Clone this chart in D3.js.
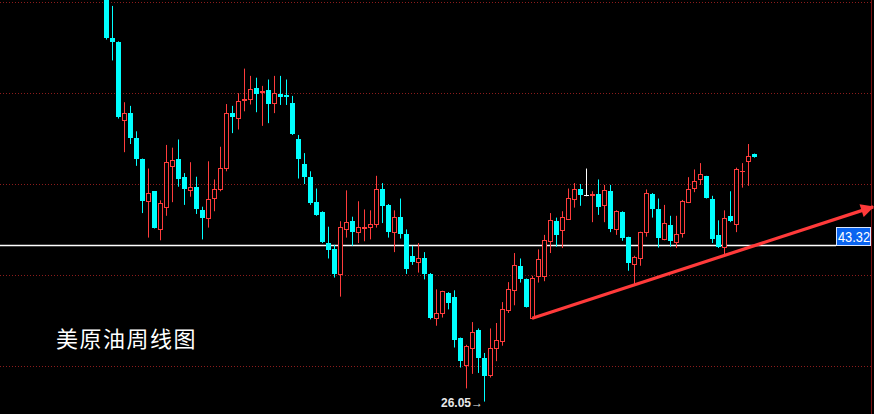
<!DOCTYPE html>
<html>
<head>
<meta charset="utf-8">
<script src="https://cdn.jsdelivr.net/npm/d3@7/dist/d3.min.js"></script>
<style>
html,body{margin:0;padding:0;background:#000;}
svg{display:block;}
</style>
</head>
<body>
<svg id="chart" width="874" height="414"></svg>
<script>
// ---- data (weekly candles, US crude oil) ----
const opens  = [74.0,66.1,65.6,57.0,57.8,55.1,52.7,48.1,49.2,45.1,47.5,52.0,52.7,50.8,49.3,49.7,47.1,46.3,48.5,49.5,51.8,57.8,57.3,59.25,59.4,60.6,60.1,60.3,58.9,59.9,59.8,58.9,54.9,52.2,50.75,48.0,46.9,43.5,42.8,40.1,45.0,45.9,44.7,45.2,45.3,45.6,49.5,47.7,44.7,46.4,44.5,42.1,41.4,41.8,40.1,35.3,35.8,38.0,37.6,33.0,30.1,32.0,33.9,30.9,28.95,31.9,32.7,36.1,38.3,41.0,39.5,35.3,39.9,39.9,43.7,45.9,44.9,46.2,48.4,49.5,48.8,48.8,48.9,47.7,49.2,45.0,46.9,44.2,41.2,41.9,44.7,48.95,47.2,43.95,45.5,43.6,44.6,48.0,49.6,50.5,50.9,48.3,44.4,43.1,46.5,45.6,51.4,52.5,53.25];
const highs  = [75.0,69.6,65.7,59.0,58.6,55.8,52.8,51.7,49.2,48.2,54.3,54.0,54.9,51.2,52.4,50.8,47.5,52.5,50.5,54.1,58.8,58.6,60.0,62.7,61.9,61.7,60.8,61.5,61.9,61.9,61.5,59.7,55.4,53.4,51.4,49.5,47.0,45.3,43.3,45.9,49.3,46.4,48.1,47.2,47.1,50.9,50.1,47.8,47.1,48.4,45.0,43.2,43.5,42.5,40.2,38.4,38.25,38.1,38.3,33.1,32.3,34.8,34.1,31.4,34.1,34.7,37.0,39.2,42.4,41.8,39.6,39.9,42.8,44.4,46.8,46.3,47.0,49.5,50.1,50.0,51.7,49.2,50.5,49.9,49.9,47.1,47.0,44.2,42.1,44.75,49.4,49.0,48.4,47.7,46.5,46.5,48.25,50.75,51.6,52.3,50.9,48.7,46.0,47.1,49.2,51.8,52.3,54.4,53.35];
const lows   = [65.9,63.6,57.2,53.5,54.4,52.0,46.8,44.1,45.1,43.8,46.5,48.0,49.7,47.7,48.6,46.7,43.9,45.2,47.0,49.2,51.4,55.6,56.0,58.0,58.75,57.9,56.4,56.7,57.8,58.7,58.7,55.4,50.6,50.0,47.7,46.5,43.5,41.8,39.7,37.6,44.1,43.2,43.5,43.7,43.9,45.2,45.7,44.1,42.5,44.0,40.1,41.1,40.25,39.5,35.1,34.4,35.3,36.2,32.0,29.8,27.5,29.1,29.2,26.05,28.7,30.5,32.2,35.8,36.65,39.15,36.4,35.1,39.15,39.3,42.4,43.1,42.95,46.15,47.4,47.6,48.65,45.8,46.6,45.8,44.7,44.4,43.75,40.45,39.0,41.0,44.2,46.3,43.0,43.8,43.1,42.95,44.1,47.9,49.1,49.9,48.4,43.5,42.95,42.2,45.8,44.7,49.6,49.8,52.9];
const closes = [66.1,65.6,57.4,57.8,55.1,52.7,48.1,49.0,45.2,47.9,52.4,52.6,50.6,49.4,49.7,47.2,46.3,48.4,49.5,51.8,57.8,57.4,59.1,59.35,60.5,59.9,60.2,58.8,60.0,59.6,59.6,55.5,52.7,50.75,47.9,46.6,43.6,42.7,40.1,45.3,45.8,44.7,45.3,45.25,45.6,49.5,47.6,44.7,46.4,44.5,40.6,41.4,41.8,40.1,35.2,35.8,38.2,36.9,32.8,30.5,32.2,33.7,30.9,28.9,32.0,32.8,36.2,38.4,41.1,39.5,36.5,39.6,41.7,43.8,46.0,44.4,46.4,48.5,49.5,48.8,48.8,48.85,47.45,49.3,45.0,47.0,44.1,41.25,42.0,44.7,49.0,47.2,44.1,45.7,43.7,44.5,48.1,49.5,50.3,51.05,48.5,44.0,43.1,46.3,45.9,51.7,51.45,53.1,52.95];

const gridValues = [30, 40, 50, 60, 70];
const refLevel = 43.32;
const refLabel = "43.32";
const lowLabel = "26.05";
const title = "美原油周线图";
// trend line in data space: [candle index, price]
const trendStart = [71, 35.23];
const trendEnd = [127.8, 47.48];

// ---- scales ----
const W = 874, H = 414;
const n = opens.length;
const x = d3.scaleLinear().domain([0, n - 1]).range([106.3, 754.3]);
const y = d3.scaleLinear().domain([30, 70]).range([365.7, 2.3]);

const svg = d3.select("#chart");
svg.append("rect").attr("width", W).attr("height", H).attr("fill", "#000");

const UP = "#ff3c3c", DOWN = "#00ffff", GRID = "#8c1c1c";
const plotRight = 871;

// gridlines
svg.append("g").selectAll("line").data(gridValues).join("line")
  .attr("x1", 0).attr("x2", plotRight)
  .attr("y1", d => Math.round(y(d)) + 0.5).attr("y2", d => Math.round(y(d)) + 0.5)
  .attr("stroke", GRID).attr("stroke-width", 1).attr("stroke-dasharray", "1,2");

// right border line
svg.append("line").attr("x1", plotRight + 0.5).attr("x2", plotRight + 0.5)
  .attr("y1", 0).attr("y2", H).attr("stroke", "#7a1010").attr("stroke-width", 1);

// reference horizontal line
const refY = Math.round(y(refLevel)) + 0.5;
const boxX = 836, boxW = plotRight - boxX, boxH = 18;
svg.append("line").attr("x1", 0).attr("x2", boxX).attr("y1", refY).attr("y2", refY)
  .attr("stroke", "#ffffff").attr("stroke-width", 1.3);

// candles
const candles = d3.range(n).map(i => ({i, o: opens[i], h: highs[i], l: lows[i], c: closes[i]}));
const g = svg.append("g");
const cx = d => Math.round(x(d.i));
const colorOf = d => d.c > d.o ? UP : (d.c < d.o ? DOWN : "#ffffff");

g.selectAll("line.wick").data(candles).join("line").attr("class", "wick")
  .attr("x1", d => cx(d) + 0.5).attr("x2", d => cx(d) + 0.5)
  .attr("y1", d => y(d.h)).attr("y2", d => y(d.l))
  .attr("stroke", colorOf).attr("stroke-width", 1);

// up candles: hollow
g.selectAll("rect.up").data(candles.filter(d => d.c > d.o)).join("rect").attr("class", "up")
  .attr("x", d => cx(d) - 2 + 0.5).attr("width", 4)
  .attr("y", d => Math.round(y(d.c)) + 0.5)
  .attr("height", d => Math.max(0.01, Math.round(y(d.o)) - Math.round(y(d.c))))
  .attr("fill", "#000").attr("stroke", UP).attr("stroke-width", 1);

// down candles: filled
g.selectAll("rect.down").data(candles.filter(d => d.c < d.o)).join("rect").attr("class", "down")
  .attr("x", d => cx(d) - 2).attr("width", 5)
  .attr("y", d => Math.round(y(d.o)))
  .attr("height", d => Math.max(1, Math.round(y(d.c)) - Math.round(y(d.o))))
  .attr("fill", DOWN);

// doji: horizontal tick
g.selectAll("line.doji").data(candles.filter(d => d.c === d.o)).join("line").attr("class", "doji")
  .attr("x1", d => cx(d) - 2).attr("x2", d => cx(d) + 3)
  .attr("y1", d => Math.round(y(d.o)) + 0.5).attr("y2", d => Math.round(y(d.o)) + 0.5)
  .attr("stroke", "#ffffff").attr("stroke-width", 1);

// trend line with arrow
const defs = svg.append("defs");
defs.append("marker").attr("id", "arrow").attr("viewBox", "0 0 10 10")
  .attr("refX", 9).attr("refY", 5).attr("markerWidth", 5).attr("markerHeight", 4.2)
  .attr("orient", "auto").attr("markerUnits", "strokeWidth")
  .append("path").attr("d", "M0,0 L10,5 L0,10 Z").attr("fill", "#ff3a3a");
svg.append("line")
  .attr("x1", x(trendStart[0])).attr("y1", y(trendStart[1]))
  .attr("x2", x(trendEnd[0])).attr("y2", y(trendEnd[1]))
  .attr("stroke", "#ff3a3a").attr("stroke-width", 3.2).attr("marker-end", "url(#arrow)");

// reference label box
svg.append("rect").attr("x", boxX + 0.5).attr("y", refY - boxH).attr("width", boxW - 1).attr("height", boxH)
  .attr("fill", "#0a64f0").attr("stroke", "#d8e6ff").attr("stroke-width", 1);
svg.append("text").attr("x", boxX + boxW / 2 + 0.5).attr("y", refY - 4)
  .attr("text-anchor", "middle").attr("fill", "#ffffff")
  .attr("font-family", "'Liberation Sans', Arial, sans-serif").attr("font-size", 14)
  .attr("textLength", 32).attr("lengthAdjust", "spacingAndGlyphs").text(refLabel);

// lowest label
const lowIdx = lows.indexOf(d3.min(lows));
const lowX = cx({i: lowIdx});
const lowY = y(lows[lowIdx]);
svg.append("text").attr("x", lowX - 1).attr("y", lowY + 5)
  .attr("text-anchor", "end").attr("fill", "#e8e8e8")
  .attr("font-family", "'Liberation Sans', Arial, sans-serif").attr("font-size", 12).attr("font-weight", "bold")
  .text(lowLabel + "→");

// title
svg.append("text").attr("x", 56).attr("y", 347).attr("fill", "#ffffff")
  .attr("font-family", "'Noto Sans CJK SC', sans-serif").attr("font-size", 22)
  .attr("letter-spacing", 1.5)
  .text(title);
</script>
</body>
</html>
